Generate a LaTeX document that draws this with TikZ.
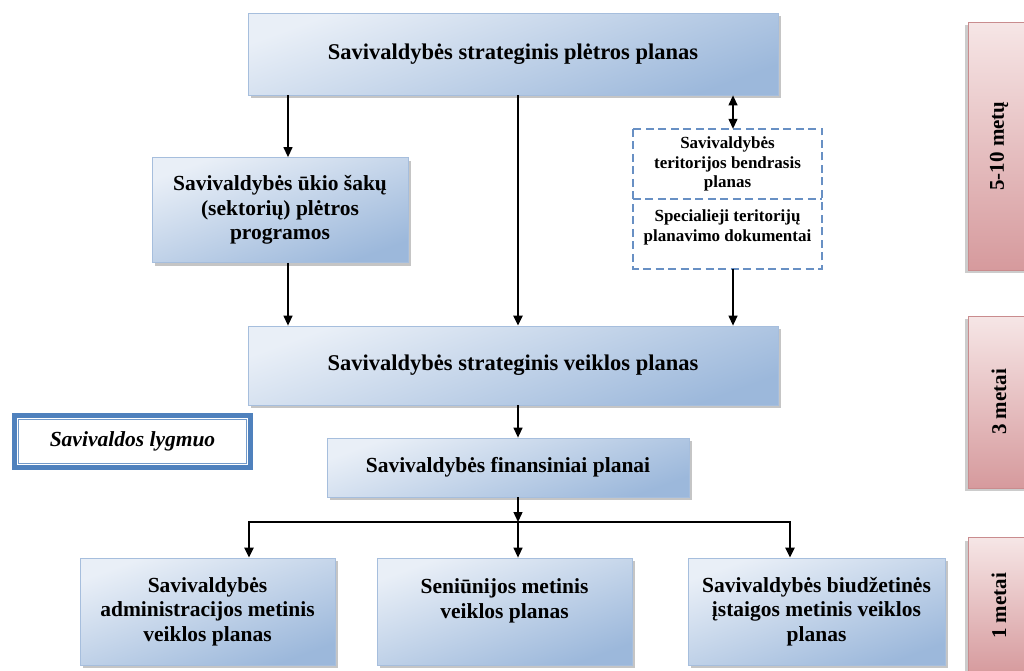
\documentclass[tikz,border=0pt]{standalone}
\usepackage{fontspec}
\setmainfont{Liberation Serif}
\usetikzlibrary{
    arrows.meta,
    shadows,
    calc,
    positioning
}
\definecolor{bluelight}{HTML}{E9EFF7}
\definecolor{bluedark}{HTML}{9CB8DB}
\definecolor{blueline}{HTML}{A6BEDD}
\definecolor{pinklight}{HTML}{F6E6E6}
\definecolor{pinkdark}{HTML}{D69A9D}
\definecolor{pinkline}{HTML}{C98C8E}
\definecolor{framecol}{HTML}{4F81BD}
\definecolor{dashcol}{HTML}{6890C4}

\begin{document}
\begin{tikzpicture}[x=1pt, y=-1pt,
    >={Triangle[length=10pt, width=9pt]},
    plan/.style={draw=blueline, line width=0.8pt, top color=bluelight,
        bottom color=bluedark, shading angle=20, inner sep=2pt, align=center,
        drop shadow={shadow xshift=3pt, shadow yshift=-3pt, fill=black!45, opacity=.5},
        font=\fontsize{21.5}{24.5}\selectfont\bfseries},
    period/.style={draw=pinkline, line width=0.6pt, top color=pinklight,
        bottom color=pinkdark, rotate=90, inner sep=0pt,
        drop shadow={shadow xshift=-3pt, shadow yshift=-3pt, fill=black!40, opacity=.5},
        font=\fontsize{21}{24}\selectfont\bfseries},
    terit/.style={inner sep=0pt, align=center, minimum width=189pt,
        font=\fontsize{17}{19.5}\selectfont\bfseries},
    dashbox/.style={draw=dashcol, line width=1.8pt, dash pattern=on 8pt off 4.5pt},
    thinline/.style={line width=1.3pt},
    thickline/.style={line width=2.5pt}
]
\useasboundingbox (0,0) rectangle (1024,670);

\node[plan, minimum width=530pt, minimum height=82pt, font=\fontsize{22.5}{25}\selectfont\bfseries] (plet) at (513,54)
    {Savivaldybės strateginis plėtros planas};
\node[plan, minimum width=256pt, minimum height=105pt] (ukio) at (280,210)
    {Savivaldybės ūkio šakų\\(sektorių) plėtros\\programos};
\node[terit, minimum height=70pt] (bendr) at (727.5,164)
    {Savivaldybės\\teritorijos bendrasis\\planas};
\node[terit, minimum height=69pt, anchor=north, text depth=17pt] (spec) at (bendr.south)
    {Specialieji teritorijų\\planavimo dokumentai};
\draw[dashbox] (bendr.north west) rectangle (spec.south east);
\draw[dashbox] (bendr.south west) -- (bendr.south east);
\node[plan, minimum width=530pt, minimum height=79pt, font=\fontsize{22.5}{25}\selectfont\bfseries] (veikl) at (513,365.5)
    {Savivaldybės strateginis veiklos planas};
\node[draw=framecol, line width=4.5pt, fill=white, minimum width=236pt,
    minimum height=52pt, font=\fontsize{21.5}{24}\selectfont\bfseries\itshape] (lvl) at (132.5,441.5)
    {Savivaldos lygmuo};
\draw[framecol!80, line width=1pt] ($(lvl.north west)+(6.5,6.5)$) rectangle ($(lvl.south east)+(-6.5,-6.5)$);
\node[plan, minimum width=362pt, minimum height=59pt] (fin) at (508,467.5)
    {Savivaldybės finansiniai planai};
\node[plan, minimum width=255pt, minimum height=107pt] (adm) at (207.5,611.5)
    {Savivaldybės\\administracijos metinis\\veiklos planas};
\node[plan, minimum width=255pt, minimum height=107pt, text depth=26pt] (sen) at (504.5,611.5)
    {Seniūnijos metinis\\veiklos planas};
\node[plan, minimum width=257pt, minimum height=107pt] (biud) at (816.5,611.5)
    {Savivaldybės biudžetinės\\įstaigos metinis veiklos\\planas};

\node[period, minimum width=248pt, minimum height=62pt] (p1) at (999,146) {5-10 metų};
\node[period, minimum width=172pt, minimum height=62pt] (p2) at (999,402) {3 metai};
\node[period, minimum width=137pt, minimum height=62pt] (p3) at (999,606) {1 metai};

\coordinate (mid) at (518,0);
\coordinate (busL) at (249,522);
\coordinate (busR) at (790,522);

\draw[thinline, ->] (plet.south -| 288,0) -- (ukio.north -| 288,0);
\draw[thinline, ->] (ukio.south -| 288,0) -- (veikl.north -| 288,0);
\draw[line width=2.2pt, ->] (plet.south -| mid) -- (veikl.north -| mid);
\draw[thinline, <->] (plet.south -| 733,0) -- (bendr.north -| 733,0);
\draw[thinline, ->] (spec.south -| 733,0) -- (veikl.north -| 733,0);
\draw[thinline, ->] (veikl.south -| mid) -- (fin.north -| mid);
\draw[thinline, ->] (fin.south -| mid) -- (busL -| mid);
\draw[thinline, ->] (busL -| mid) -- (sen.north -| mid);
\draw[thickline, <->] (adm.north -| busL) -- (busL) -- (busR) -- (biud.north -| busR);
\end{tikzpicture}
\end{document}
